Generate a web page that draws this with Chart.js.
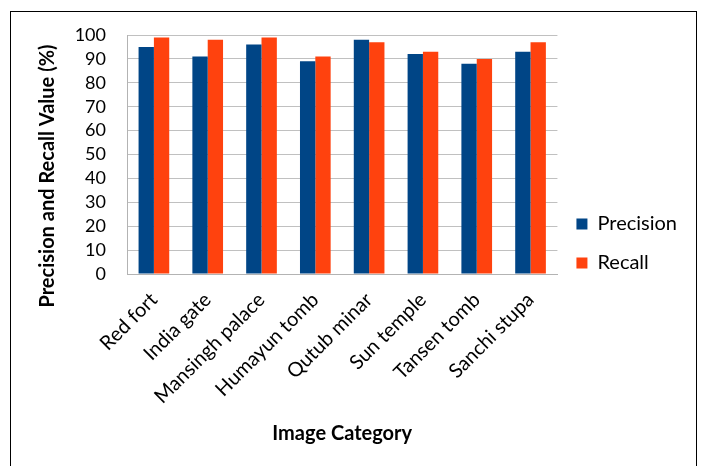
<!DOCTYPE html>
<html><head><meta charset="utf-8">
<script src="https://cdn.jsdelivr.net/npm/chart.js@4/dist/chart.umd.min.js"></script>
<style>html,body{margin:0;padding:0;background:#fff}#wrap{width:702px;height:466px;position:relative}</style>
</head><body><div id="wrap"><canvas id="c" width="702" height="466"></canvas></div>
<script>
const categories = ["Red fort","India gate","Mansingh palace","Humayun tomb","Qutub minar","Sun temple","Tansen tomb","Sanchi stupa"];
const precision = [95,91,96,89,98,92,88,93];
const recall = [99,98,99,91,97,93,90,97];
const yTicks = [0,10,20,30,40,50,60,70,80,90,100];
const yTitle = 'Precision and Recall Value (%)';

const FONT = "Lato, 'Liberation Sans', sans-serif";

const frame = {
  id:'frame',
  beforeDraw(chart){
    const ctx = chart.ctx;
    ctx.save();
    ctx.fillStyle='#fff';ctx.fillRect(0,0,chart.width,chart.height);
    ctx.strokeStyle='#000';ctx.lineWidth=1;
    ctx.strokeRect(10.5,11.5,686,470);
    ctx.restore();
  },
  afterDraw(chart){
    const ctx = chart.ctx;
    ctx.save();
    ctx.translate(48,176);
    ctx.rotate(-Math.PI/2);
    ctx.fillStyle='#000';
    ctx.font="bold 20px "+FONT;
    ctx.textAlign='center';ctx.textBaseline='middle';
    ctx.fillText(yTitle,0,0);
    ctx.restore();
  }
};

new Chart(document.getElementById('c'),{
  type:'bar',
  data:{labels:categories,datasets:[
    {label:'Precision',data:precision,backgroundColor:'#004586',borderWidth:0},
    {label:'Recall',data:recall,backgroundColor:'#ff420e',borderWidth:0}
  ]},
  plugins:[frame],
  options:{
    responsive:false,animation:false,devicePixelRatio:1,
    layout:{padding:{left:60,right:15,top:35,bottom:14}},
    datasets:{bar:{barPercentage:1,categoryPercentage:0.57}},
    plugins:{
      legend:{position:'right',align:'center',
        labels:{boxWidth:11,boxHeight:11,padding:19,color:'#000',font:{family:FONT,size:20}}},
      tooltip:{enabled:false}
    },
    scales:{
      x:{
        grid:{display:false,drawTicks:false},
        border:{display:true,color:'#b3b3b3'},
        ticks:{color:'#000',font:{family:FONT,size:20},maxRotation:45,minRotation:45,padding:14,autoSkip:false},
        title:{display:true,text:'Image Category',color:'#000',font:{family:FONT,size:20,weight:'bold'},padding:{top:10,bottom:6}},
        afterFit(s){s.height=192-14;}
      },
      y:{
        min:0,max:100,
        afterBuildTicks(s){s.ticks=yTicks.map(v=>({value:v}));},
        grid:{color:'#c0c0c0',drawTicks:false},
        border:{display:true,color:'#b3b3b3'},
        ticks:{color:'#000',font:{family:FONT,size:18},padding:21,autoSkip:false},
        afterFit(s){s.width=127-60;}
      }
    }
  }
});
</script></body></html>
